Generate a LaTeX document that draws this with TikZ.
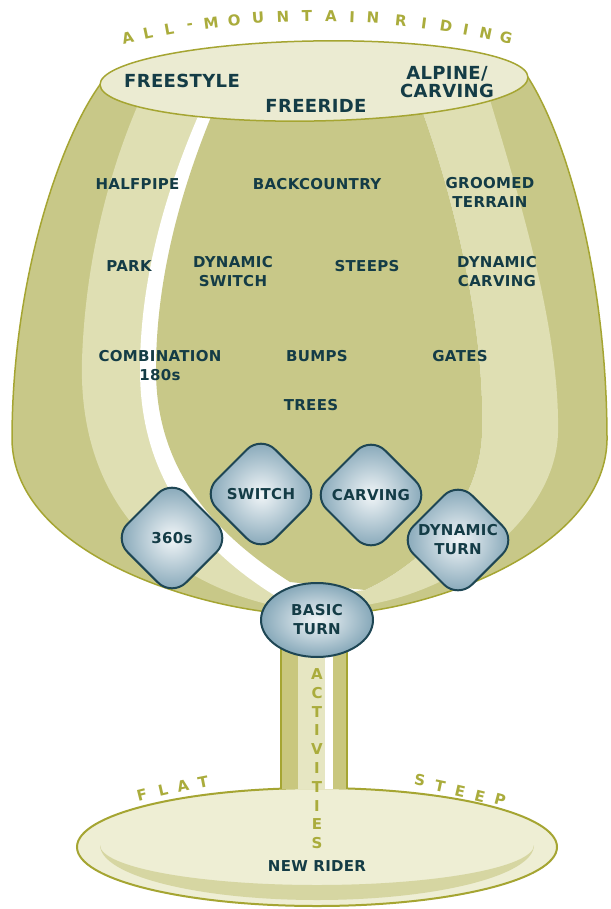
\documentclass[tikz,border=0pt]{standalone}
\usepackage{fontspec}
\usetikzlibrary{shapes.geometric}
\newfontfamily\labfont[LetterSpace=2]{DejaVu Sans}
\newfontfamily\arcfont{DejaVu Sans}
\definecolor{bowlolive}{HTML}{C8C888}
\definecolor{bowllight}{HTML}{DFDFB3}
\definecolor{rimcream}{HTML}{EBEBD2}
\definecolor{edgeolive}{HTML}{A5A532}
\definecolor{arcolive}{HTML}{AAAC3C}
\definecolor{labtext}{HTML}{143C46}
\definecolor{diamedge}{HTML}{1E4654}
\definecolor{diamin}{HTML}{F2F6F8}
\definecolor{diamout}{HTML}{799EB1}
\definecolor{ovalout}{HTML}{86A8B9}
\definecolor{basecream}{HTML}{EEEED4}
\definecolor{baseband}{HTML}{D6D6A2}
\definecolor{stemolive}{HTML}{C9C77E}
\definecolor{stemlight}{HTML}{E6E6C2}
\tikzset{
  lab/.style={text=labtext, font=\labfont\bfseries\fontsize{15}{19}\selectfont, align=center, inner sep=0pt},
  rimlab/.style={text=labtext, font=\labfont\bfseries\fontsize{18}{18}\selectfont, align=center, inner sep=0pt},
  arclet/.style={text=arcolive, font=\arcfont\bfseries\fontsize{15}{15}\selectfont, inner sep=0pt},
  diam/.style={lab, diamond, aspect=1, minimum size=118pt, inner sep=0pt, rounded corners=20pt, draw=diamedge, line width=2pt, inner color=diamin, outer color=diamout},
  oval/.style={lab, ellipse, minimum width=112pt, minimum height=74pt, inner sep=0pt, draw=diamedge, line width=2pt, inner color=diamin, outer color=ovalout},
  edgeline/.style={draw=edgeolive, line width=1.5pt},
}
\begin{document}
\begin{tikzpicture}[x=1pt,y=-1pt]
\useasboundingbox (0,0) rectangle (610,909);
\fill[white] (0,0) rectangle (610,909);

% base
\path[fill=basecream, edgeline, line width=2pt] (317,847) ellipse [x radius=240, y radius=59];
\fill[baseband] (100,845) arc[start angle=180, end angle=0, x radius=217, y radius=55]
  arc[start angle=0, end angle=180, x radius=217, y radius=40] -- cycle;

% stem
\fill[stemolive] (281,640) rectangle (347,789);
\fill[stemlight] (298,640) rectangle (325,789);
\fill[white] (325,640) rectangle (333,789);
\draw[edgeline] (281,640) -- (281,789) (347,640) -- (347,789);

% bowl
\path[fill=bowlolive, edgeline] (100,84.7) .. controls (60,140) and (12,280) .. (12,440)
  .. controls (14,545) and (170,600) .. (268,612) -- (362,612)
  .. controls (460,600) and (605,540) .. (607,440)
  .. controls (607,280) and (568,140) .. (528,77.3) -- cycle;
\fill[bowllight] (140,100) .. controls (105,180) and (85,270) .. (82,360)
  .. controls (78,500) and (160,580) .. (275,606) -- (360,606)
  .. controls (470,590) and (556,510) .. (558,433)
  .. controls (560,330) and (520,200) .. (490,100) -- cycle;
\fill[white] (203,105) .. controls (165,190) and (140,280) .. (140,370)
  .. controls (140,470) and (190,545) .. (282,600) -- (365,590)
  .. controls (430,560) and (480,500) .. (482,433)
  .. controls (485,330) and (455,200) .. (420,105) -- cycle;
\fill[bowlolive] (216,105) .. controls (180,190) and (156,280) .. (156,370)
  .. controls (156,462) and (205,528) .. (290,582) -- (365,590)
  .. controls (430,560) and (480,500) .. (482,433)
  .. controls (485,330) and (455,200) .. (420,105) -- cycle;

% rim
\path[fill=rimcream, edgeline, rotate around={1:(314,81)}] (314,81) ellipse [x radius=214, y radius=40];

% arc text
\foreach \ch/\ang [count=\i] in {A/-13.3, L/-11.85, L/-10.36, -/-8.87, M/-7.40, O/-5.78, U/-4.11, N/-2.37, T/-0.70, A/0.97, I/2.44, N/3.90, R/5.86, I/7.47, D/9.02, I/10.43, N/11.85, G/13.28}
  \node[arclet, rotate=-\ang] (am\i) at ({317+823*sin(\ang)},{839-823*cos(\ang)}) {\ch};

\foreach \ch/\px/\py/\rot [count=\i] in {F/142/795/14, L/163/790/13, A/183/786/12, T/203/782/11}
  \node[arclet, rotate=\rot] (fl\i) at (\px,\py) {\ch};
\foreach \ch/\px/\py/\rot [count=\i] in {S/420/780/-10, T/440/786/-12, E/460/791/-13, E/480/796/-14, P/500/800/-15}
  \node[arclet, rotate=\rot] (st\i) at (\px,\py) {\ch};
\foreach \ch [count=\i] in {A,C,T,I,V,I,T,I,E,S}
  \node[arclet] (act\i) at (317,{674+18.8*(\i-1)}) {\ch};

% rim labels
\node[rimlab] (freestyle) at (182,81) {FREESTYLE};
\node[rimlab] (freeride) at (316,106) {FREERIDE};
\node[rimlab] (alpine) at (447,82) {ALPINE/\\CARVING};

% bowl labels
\node[lab] (halfpipe) at (137.5,184.5) {HALFPIPE};
\node[lab] (backcountry) at (317,184) {BACKCOUNTRY};
\node[lab] (groomed) at (490,192) {GROOMED\\TERRAIN};
\node[lab] (park) at (129,266) {PARK};
\node[lab] (dynswitch) at (233,272) {DYNAMIC\\SWITCH};
\node[lab] (steeps) at (367,266) {STEEPS};
\node[lab] (dyncarving) at (497,272) {DYNAMIC\\CARVING};
\node[lab] (combo) at (160,366) {COMBINATION\\180s};
\node[lab] (bumps) at (317,356) {BUMPS};
\node[lab] (gates) at (460,356) {GATES};
\node[lab] (trees) at (311,405) {TREES};

% diamonds
\node[diam] (d360) at (172,538) {360s};
\node[diam] (dswitch) at (261,494) {SWITCH};
\node[diam] (dcarving) at (371,495) {CARVING};
\node[diam] (ddynturn) at (458,540) {DYNAMIC\\TURN};
\node[oval] (basic) at (317,620) {BASIC\\TURN};

\node[lab] (newrider) at (317,866) {NEW RIDER};
\end{tikzpicture}
\end{document}
